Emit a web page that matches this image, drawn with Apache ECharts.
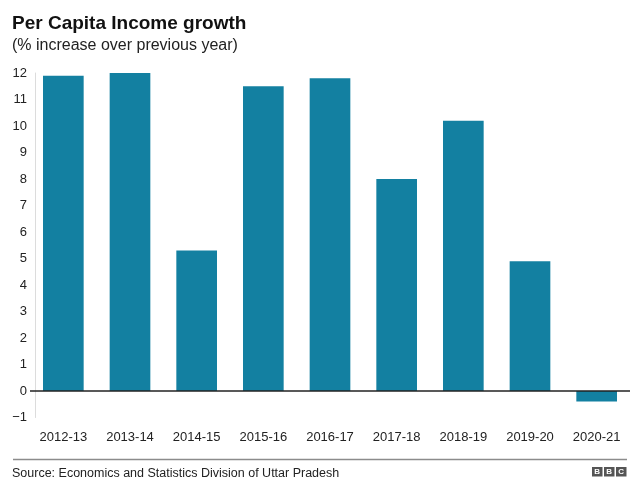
<!DOCTYPE html>
<html>
<head>
<meta charset="utf-8">
<script src="https://cdn.jsdelivr.net/npm/echarts@6/dist/echarts.min.js"></script>
<style>
  html, body { margin: 0; padding: 0; background: #fff; }
  #chart { width: 640px; height: 494px; }
</style>
</head>
<body>
<div id="chart"></div>
<script>
// data
const years = ['2012-13', '2013-14', '2014-15', '2015-16', '2016-17', '2017-18', '2018-19', '2019-20', '2020-21'];
const growth = [11.9, 12.0, 5.3, 11.5, 11.8, 8.0, 10.2, 4.9, -0.4];

const chart = echarts.init(document.getElementById('chart'));
const font = 'Liberation Sans, Arial, sans-serif';

// little BBC blocks in the corner
function bbcBlock(letter, x) {
  return {
    type: 'group',
    left: x,
    top: 467,
    children: [
      { type: 'rect', shape: { x: 0, y: 0, width: 10.5, height: 9.5 }, style: { fill: '#555' } },
      { type: 'text', x: 5.25, y: 5, style: { text: letter, fill: '#fff', font: 'bold 8px ' + font, textAlign: 'center', textVerticalAlign: 'middle' } }
    ]
  };
}

const option = {
  backgroundColor: '#fff',
  animation: false,
  title: [
    {
      text: 'Per Capita Income growth',
      left: 7,
      top: 9,
      textStyle: { fontFamily: font, fontSize: 19, fontWeight: 'bold', color: '#111' }
    },
    {
      text: '(% increase over previous year)',
      left: 7,
      top: 33,
      textStyle: { fontFamily: font, fontSize: 16, fontWeight: 'normal', color: '#222' }
    },
    {
      text: 'Source: Economics and Statistics Division of Uttar Pradesh',
      left: 7,
      top: 462,
      textStyle: { fontFamily: font, fontSize: 12.5, fontWeight: 'normal', color: '#222' }
    }
  ],
  grid: {
    left: 30,
    right: 10,
    top: 73,
    bottom: 76.5
  },
  xAxis: {
    type: 'category',
    data: years,
    axisLine: { show: false, onZero: false },
    axisTick: { show: false },
    axisLabel: { color: '#222', fontFamily: font, fontSize: 13, margin: 13 }
  },
  yAxis: {
    type: 'value',
    min: -1,
    max: 12,
    interval: 1,
    offset: -5,
    axisLine: { show: true, lineStyle: { color: '#dcdcdc', width: 1 } },
    axisTick: { show: false },
    splitLine: { show: false },
    axisLabel: {
      color: '#222',
      fontFamily: font,
      fontSize: 13,
      margin: 8,
      formatter: v => (v < 0 ? '\u2212' + Math.abs(v) : String(v))
    }
  },
  series: [
    {
      type: 'bar',
      data: growth,
      barWidth: '61%',
      itemStyle: { color: '#1380A1' },
      markLine: {
        silent: true,
        symbol: 'none',
        label: { show: false },
        lineStyle: { color: '#222', width: 1.5, type: 'solid' },
        data: [{ yAxis: 0 }]
      }
    }
  ],
  graphic: [
    {
      type: 'rect',
      shape: { x: 13, y: 459.5, width: 614, height: 0 },
      style: { stroke: '#8c8c8c', lineWidth: 1.5 }
    },
    bbcBlock('B', 592),
    bbcBlock('B', 604),
    bbcBlock('C', 616)
  ]
};

chart.setOption(option);
</script>
</body>
</html>
